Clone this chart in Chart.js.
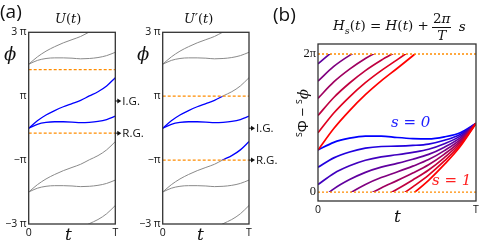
<!DOCTYPE html>
<html>
<head>
<meta charset="utf-8">
<script src="https://cdn.jsdelivr.net/npm/chart.js@4.4.1/dist/chart.umd.min.js"></script>
<style>
  html, body { margin: 0; padding: 0; background: #fff; }
  #wrap { position: relative; width: 499px; height: 243px; overflow: hidden; font-family: 'Open Sans', 'DejaVu Sans', sans-serif; color: #111; }
  canvas { position: absolute; top: 0; }
  .lbl { position: absolute; line-height: 1; white-space: nowrap; }
  .m { font-family: 'DejaVu Serif', 'Liberation Serif', serif; font-style: italic; }
  .up { font-style: normal; }
  .frac { display: inline-flex; flex-direction: column; align-items: center; vertical-align: middle; margin: 0 3px; }
  .frac .num { border-bottom: 1px solid #111; padding: 0 1px 1px; }
  .frac .den { padding-top: 1px; }
</style>
</head>
<body>
<div id="wrap">
  <canvas id="chartU" width="160" height="243" style="left:0"></canvas>
  <canvas id="chartUp" width="170" height="243" style="left:130px"></canvas>
  <canvas id="chartS" width="209" height="243" style="left:290px"></canvas>

  <div class="lbl" style="left:0; top:2px; font-size:19px;">(a)</div>
  <div class="lbl" style="left:273px; top:5px; font-size:19px;">(b)</div>

  <div class="lbl m" style="left:55px; top:12px; font-size:13px;">U<span class="up">(</span>t<span class="up">)</span></div>
  <div class="lbl m" style="left:184px; top:12px; font-size:13px;">U′<span class="up">(</span>t<span class="up">)</span></div>

  <div class="lbl m" style="left:4px; top:45px; font-size:18px;">ϕ</div>
  <div class="lbl m" style="left:137px; top:45px; font-size:18px;">ϕ</div>

  <div class="lbl m" style="left:65px; top:226px; font-size:17px;">t</div>
  <div class="lbl m" style="left:197px; top:226px; font-size:17px;">t</div>
  <div class="lbl m" style="left:394px; top:208px; font-size:17px;">t</div>

  <div class="lbl m" style="left:333px; top:12px; font-size:13.5px; display:flex; align-items:center;">
    <span>H<sub style="font-size:9.5px">s</sub><span class="up">(</span>t<span class="up">) = </span>H<span class="up">(</span>t<span class="up">) + </span></span>
    <span class="frac"><span class="num"><span class="up">2</span>π</span><span class="den">T</span></span>
    <span>&nbsp;s</span>
  </div>

  <div class="lbl" style="left:302px; top:113px; font-size:15px; transform: translate(-50%, -50%) rotate(-90deg);"><sup style="font-size:10px">s</sup>Φ − <sup style="font-size:10px">s</sup><span class="m">ϕ</span></div>

  <div class="lbl m" style="left:391px; top:115px; font-size:15px; color:#2020ff;">s&nbsp;=&nbsp;0</div>
  <div class="lbl m" style="left:432px; top:173px; font-size:15px; color:#ff2020;">s&nbsp;=&nbsp;1</div>
</div>

<script>
// time grid, t/T
const tGrid = [0, 0.1, 0.2, 0.3, 0.4, 0.5, 0.6, 0.7, 0.8, 0.9, 1];

// eigenphase bands of U(t), units of π
const phaseUpper = [0, 0.23, 0.41, 0.55, 0.67, 0.77, 0.87, 1.01, 1.14, 1.32, 1.58];
const phaseLower = [0, 0.12, 0.18, 0.2, 0.2, 0.19, 0.17, 0.18, 0.21, 0.27, 0.375];
const windings = [-2, -1, 0, 1];

// gap positions (units of π) and the arrow markers
const gapsU = [-0.156, 1.83];
const gapsUprime = [-1, 1];
const markersU = [{ label: 'I.G.', y: 0.85 }, { label: 'R.G.', y: -0.156 }];
const markersUprime = [{ label: 'I.G.', y: 0 }, { label: 'R.G.', y: -1 }];

const phaseTickValues = [-3, -1, 1, 3];
const phaseTickLabels = ['−3 π', '−π', 'π', '3 π'];
const tTickValues = [0, 1];
const tTickLabels = ['0', 'T'];

// panel (b): s = 0 curve, units of π, and the s family
const phaseS0 = [0.608, 0.72, 0.78, 0.81, 0.81, 0.79, 0.775, 0.77, 0.8, 0.86, 0.995];
const sValues = [0, 0.125, 0.25, 0.375, 0.5, 0.625, 0.75, 0.875, 1];
const diffTickValues = [0, 2];
const diffTickLabels = ['0', '2π'];
const diffGaps = [0, 2];

const ORANGE = '#ff8c00';
const GRAY = '#8a8a8a';
const BLUE = '#0000ff';
const tickFont = { family: "'Open Sans', 'DejaVu Sans', sans-serif", size: 10.5 };

// clip a dataset to a value band of the y scale (or to everything outside it)
const bandClip = {
    id: 'bandClip',
    beforeDatasetDraw(chart, args) {
        const ds = chart.data.datasets[args.index];
        const band = ds.band || ds.outside;
        if (!band) return;
        const y = chart.scales.y;
        const a = chart.chartArea;
        const top = y.getPixelForValue(band[1]);
        const bottom = y.getPixelForValue(band[0]);
        const ctx = chart.ctx;
        ctx.save();
        ctx.beginPath();
        if (ds.outside) ctx.rect(a.left - 2, a.top - 2, a.right - a.left + 4, a.bottom - a.top + 4);
        ctx.rect(a.left, top, a.right - a.left, bottom - top);
        ctx.clip('evenodd');
    },
    afterDatasetDraw(chart, args) {
        const ds = chart.data.datasets[args.index];
        if (ds.band || ds.outside) chart.ctx.restore();
    }
};

// frame round the plot area
const frame = {
    id: 'frame',
    afterDatasetsDraw(chart) {
        const { ctx, chartArea: a } = chart;
        ctx.save();
        ctx.strokeStyle = '#333';
        ctx.lineWidth = 1.3;
        ctx.strokeRect(a.left, a.top, a.right - a.left, a.bottom - a.top);
        ctx.restore();
    }
};

function arrowMarkers(items) {
    return {
        id: 'arrowMarkers',
        afterDraw(chart) {
            const { ctx, chartArea: a } = chart;
            ctx.save();
            ctx.fillStyle = '#111';
            ctx.strokeStyle = '#111';
            ctx.lineWidth = 1;
            ctx.font = "11.5px 'Open Sans', 'DejaVu Sans', sans-serif";
            ctx.textBaseline = 'middle';
            items.forEach(m => {
                const y = chart.scales.y.getPixelForValue(m.y);
                const x0 = a.right;
                ctx.beginPath();
                ctx.moveTo(x0, y);
                ctx.lineTo(x0 + 4, y);
                ctx.stroke();
                ctx.beginPath();
                ctx.moveTo(x0 + 2, y - 2.5);
                ctx.lineTo(x0 + 6, y);
                ctx.lineTo(x0 + 2, y + 2.5);
                ctx.closePath();
                ctx.fill();
                ctx.fillText(m.label, x0 + 7, y + 0.5);
            });
            ctx.restore();
        }
    };
}

function xScale() {
    return {
        type: 'linear', min: 0, max: 1,
        grid: { display: false, drawTicks: false },
        border: { display: false },
        ticks: {
            font: tickFont, color: '#111', padding: 3, autoSkip: false, maxRotation: 0,
            callback: (v, i) => tTickLabels[i]
        },
        afterBuildTicks: s => { s.ticks = tTickValues.map(v => ({ value: v })); },
        afterFit: s => { s.height = 14; s.paddingLeft = 0; s.paddingRight = 0; }
    };
}

function yScale(min, max, values, labels, width, font) {
    return {
        type: 'linear', min: min, max: max,
        grid: { display: false, drawTicks: false },
        border: { display: false },
        ticks: {
            font: font || tickFont, color: '#111', padding: 2, autoSkip: false,
            callback: (v, i) => labels[i]
        },
        afterBuildTicks: s => { s.ticks = values.map(v => ({ value: v })); },
        afterFit: s => { s.width = width; s.paddingTop = 0; s.paddingBottom = 0; }
    };
}

function curve(values, shift) {
    return tGrid.map((t, i) => ({ x: t, y: values[i] + shift }));
}

function phaseDatasets(gaps) {
    const sets = [];
    const band = [gaps[0], gaps[1]];
    gaps.forEach(g => sets.push({
        data: [{ x: 0, y: g }, { x: 1, y: g }],
        borderColor: ORANGE, borderWidth: 1.3, borderDash: [3, 2], pointRadius: 0
    }));
    [phaseUpper, phaseLower].forEach(p => {
        windings.forEach(k => sets.push({
            data: curve(p, 2 * k), borderColor: GRAY, borderWidth: 1,
            pointRadius: 0, cubicInterpolationMode: 'monotone', clip: 0, outside: band
        }));
    });
    [phaseUpper, phaseLower].forEach(p => {
        windings.forEach(k => sets.push({
            data: curve(p, 2 * k), borderColor: BLUE, borderWidth: 1.3,
            pointRadius: 0, cubicInterpolationMode: 'monotone', clip: 0, band: band
        }));
    });
    return sets;
}

function baseOptions(scales, padding) {
    return {
        responsive: false,
        animation: false,
        events: [],
        layout: { padding: padding },
        plugins: { legend: { display: false }, tooltip: { enabled: false } },
        scales: scales
    };
}

new Chart(document.getElementById('chartU'), {
    type: 'line',
    data: { datasets: phaseDatasets(gapsU) },
    options: baseOptions(
        { x: xScale(), y: yScale(-3, 3, phaseTickValues, phaseTickLabels, 28.7) },
        { left: 0, top: 32.3, right: 44.7, bottom: 5 }
    ),
    plugins: [bandClip, frame, arrowMarkers(markersU)]
});

new Chart(document.getElementById('chartUp'), {
    type: 'line',
    data: { datasets: phaseDatasets(gapsUprime) },
    options: baseOptions(
        { x: xScale(), y: yScale(-3, 3, phaseTickValues, phaseTickLabels, 32.7) },
        { left: 0, top: 32.3, right: 51, bottom: 5 }
    ),
    plugins: [bandClip, frame, arrowMarkers(markersUprime)]
});

// panel (b): each s curve wraps mod 2π, drawn as two copies clipped to [0, 2π]
const sSets = [];
diffGaps.forEach(g => sSets.push({
    data: [{ x: 0, y: g }, { x: 1, y: g }],
    borderColor: ORANGE, borderWidth: 1.3, borderDash: [2, 2], pointRadius: 0
}));
sValues.slice().reverse().forEach(s => {
    const color = `rgb(${Math.round(255 * s)}, 0, ${Math.round(255 * (1 - s))})`;
    const lower = phaseS0.map((v, i) => v + 2 * s * (tGrid[i] - 1));
    [0, 2].forEach(shift => sSets.push({
        data: curve(lower, shift), borderColor: color, borderWidth: 1.7,
        pointRadius: 0, cubicInterpolationMode: 'monotone', clip: 0, band: [0, 2]
    }));
});

new Chart(document.getElementById('chartS'), {
    type: 'line',
    data: { datasets: sSets },
    options: baseOptions(
        {
            x: xScale(),
            y: yScale(-0.13, 2.145, diffTickValues, diffTickLabels, 28,
                { family: "'Liberation Serif', 'DejaVu Serif', serif", size: 12.5 })
        },
        { left: 0, top: 44, right: 23, bottom: 28 }
    ),
    plugins: [bandClip, frame]
});
</script>
</body>
</html>
